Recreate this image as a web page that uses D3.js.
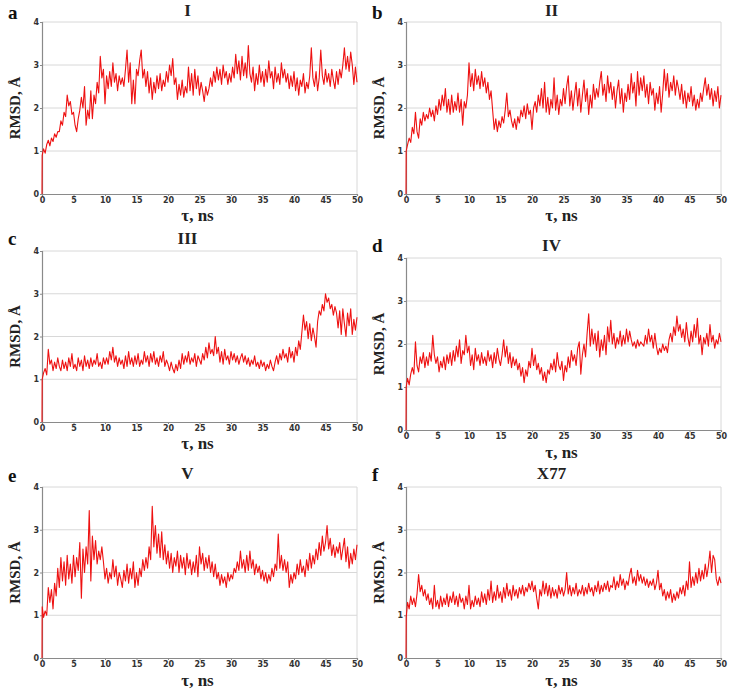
<!DOCTYPE html>
<html>
<head>
<meta charset="utf-8">
<script src="https://cdn.jsdelivr.net/npm/d3@7"></script>
<style>
html,body{margin:0;padding:0;background:#fff;}
svg{display:block;}
</style>
</head>
<body>
<svg id="chart" width="729" height="692"></svg>
<script>
// ---- data (RMSD, Å; one value every 0.25 ns, first value at t≈0) ----
const panelLetters = ["a","b","c","d","e","f"];
const panelTitles = ["I","II","III","IV","V","X77"];
const xTicks = [0,5,10,15,20,25,30,35,40,45,50];
const yTicks = [0,1,2,3,4];
const tauStep = 0.25;

const rmsdI = [0.9,
1.05,0.95,1.15,1.25,1.12,1.3,1.22,1.4,1.32,1.45,
1.45,1.7,1.6,1.9,1.8,2.3,2.05,2.15,1.85,1.9,
1.6,1.45,1.75,1.95,2.25,2.0,2.5,1.6,1.95,1.75,
2.4,1.75,2.3,2.1,2.6,2.35,3.2,2.7,2.9,2.1,
2.75,2.45,2.85,2.5,3.05,2.6,2.8,2.4,2.75,2.55,
2.7,2.5,2.9,3.35,2.6,3.05,2.1,2.65,2.1,2.9,
2.75,3.1,3.35,2.7,2.9,2.5,2.85,2.35,2.7,2.2,
2.6,2.35,2.75,2.45,2.8,2.4,2.65,2.5,2.85,2.6,
3.0,2.75,3.15,2.55,2.7,2.2,2.55,2.3,2.65,2.25,
2.5,2.35,2.95,2.4,2.8,2.3,2.9,2.45,2.75,2.3,
2.6,2.4,2.15,2.5,2.3,2.45,2.7,2.5,2.85,2.6,
2.95,2.65,2.9,2.55,3.0,2.7,2.85,2.55,2.8,2.6,
2.95,2.7,3.25,2.8,3.1,2.65,3.2,2.75,3.05,2.7,
3.45,2.8,2.6,2.95,2.4,2.8,2.55,3.0,2.6,2.85,
2.5,2.9,2.6,3.1,2.7,2.85,2.45,2.95,2.6,2.8,
2.55,3.05,2.7,2.9,2.6,2.8,2.45,2.75,2.5,2.85,
2.4,2.7,2.3,2.65,2.5,2.8,2.35,2.6,2.45,2.75,
3.4,2.7,2.5,2.85,2.4,2.7,3.35,2.75,2.55,2.9,
2.6,2.8,2.5,2.9,2.65,2.45,2.85,2.55,2.9,2.7,
3.0,3.4,2.9,3.2,2.85,3.3,3.0,2.55,2.95,2.6];

const rmsdII = [1.0,
1.15,1.3,1.2,1.55,1.4,1.9,1.45,1.3,1.75,1.6,
1.9,1.7,1.85,1.75,2.0,1.8,1.95,1.7,2.05,1.85,
2.2,1.95,2.3,2.05,2.45,1.9,2.2,1.85,2.3,1.9,
2.15,1.95,2.35,1.9,2.2,1.6,2.15,2.0,2.3,3.05,
2.5,2.8,2.4,2.9,2.55,2.75,2.45,2.85,2.5,2.7,
2.35,2.6,2.2,2.4,1.95,1.5,1.75,1.45,1.7,1.55,
1.8,1.65,1.95,2.35,1.8,1.95,1.7,1.55,1.75,1.5,
1.8,1.65,1.95,1.8,2.05,1.75,2.1,1.85,1.95,1.5,
2.0,2.15,1.9,2.3,2.05,2.45,2.0,2.6,1.9,2.25,
1.85,2.2,2.0,2.7,1.95,2.3,1.85,2.2,2.05,2.45,
2.1,2.5,2.75,2.05,2.4,1.95,2.3,2.6,2.05,2.45,
1.9,2.3,2.65,2.15,2.45,1.85,2.3,2.0,2.55,2.2,
2.45,2.25,2.6,2.85,2.3,2.55,2.15,2.75,2.35,2.6,
2.2,2.5,2.0,2.4,2.65,2.1,2.45,1.9,2.35,2.15,
2.55,2.2,2.8,2.35,2.6,2.05,2.85,2.3,2.7,2.4,
2.75,2.25,2.55,2.1,2.6,2.3,2.45,1.95,2.35,2.1,
2.5,1.9,2.35,2.9,2.4,2.8,2.25,2.6,2.4,2.75,
2.3,2.65,2.45,2.2,2.55,2.1,2.4,2.0,2.35,2.15,
2.5,2.05,2.3,1.95,2.2,2.0,2.35,2.15,2.45,2.7,
2.3,2.55,2.2,2.45,2.05,2.4,2.15,2.5,2.0,2.3];

const rmsdIII = [1.0,
1.15,1.25,1.1,1.7,1.35,1.45,1.2,1.4,1.25,1.5,
1.3,1.2,1.45,1.25,1.4,1.2,1.5,1.3,1.6,1.25,
1.35,1.2,1.5,1.3,1.45,1.2,1.55,1.3,1.45,1.25,
1.5,1.3,1.45,1.35,1.6,1.3,1.4,1.25,1.5,1.35,
1.5,1.35,1.65,1.45,1.75,1.4,1.55,1.3,1.5,1.35,
1.45,1.25,1.55,1.3,1.65,1.35,1.5,1.3,1.55,1.35,
1.6,1.3,1.45,1.35,1.65,1.4,1.55,1.3,1.6,1.4,
1.65,1.35,1.5,1.3,1.55,1.4,1.65,1.3,1.45,1.35,
1.2,1.4,1.25,1.15,1.35,1.2,1.45,1.25,1.6,1.35,
1.55,1.4,1.65,1.35,1.5,1.4,1.6,1.3,1.55,1.45,
1.35,1.6,1.45,1.75,1.5,1.85,1.6,1.7,1.55,2.0,
1.6,1.75,1.4,1.65,1.35,1.7,1.45,1.55,1.35,1.65,
1.45,1.6,1.4,1.55,1.35,1.5,1.6,1.4,1.55,1.35,
1.5,1.3,1.45,1.35,1.55,1.3,1.4,1.25,1.45,1.3,
1.4,1.2,1.35,1.25,1.45,1.3,1.2,1.4,1.55,1.35,
1.6,1.45,1.7,1.5,1.6,1.4,1.75,1.5,1.65,1.4,
1.75,1.55,1.9,1.7,2.1,2.5,2.15,2.35,1.95,2.3,
1.9,2.2,2.0,1.75,2.35,2.6,2.5,2.75,2.6,3.0,
2.8,2.9,2.65,2.75,2.5,2.7,2.55,2.2,2.6,2.05,
2.65,2.3,2.0,2.55,2.25,2.65,2.05,2.4,2.15,2.45];

const rmsdIV = [1.0,
1.2,1.05,1.3,1.45,1.3,2.05,1.5,1.35,1.7,1.55,
1.8,1.45,1.7,1.5,1.8,1.6,2.2,1.75,1.55,1.7,
1.35,1.6,1.45,1.7,1.4,1.75,1.55,1.8,1.5,1.85,
1.6,1.95,1.7,2.1,1.55,1.85,1.75,2.2,1.8,1.95,
1.5,1.75,1.4,1.9,1.6,1.75,1.5,1.8,1.55,1.7,
1.5,1.85,1.6,1.75,1.45,1.8,1.55,1.9,1.65,1.5,
1.75,2.1,1.7,1.95,1.55,1.8,1.45,1.7,1.5,1.65,
1.4,1.55,1.25,1.45,1.1,1.4,1.25,1.6,1.45,1.9,
1.5,1.75,1.4,1.55,1.3,1.45,1.15,1.35,1.1,1.4,
1.3,1.55,1.4,1.65,1.35,1.8,1.5,1.4,1.6,1.15,
1.5,1.35,1.7,1.45,1.85,1.6,1.75,1.5,1.9,2.05,
1.3,1.75,2.0,1.7,2.25,2.7,1.95,2.35,2.0,2.25,
1.85,2.3,1.7,2.1,1.85,2.2,1.75,2.4,2.05,2.55,
2.0,2.25,1.9,2.15,2.0,2.3,1.95,2.2,2.0,2.35,
2.05,2.3,2.1,1.95,2.05,1.9,2.1,1.95,2.05,2.0,
1.95,2.2,2.0,2.35,2.05,2.2,1.9,2.25,1.95,1.75,
1.9,1.8,2.0,1.85,1.95,1.8,2.1,2.25,2.05,2.4,
2.2,2.65,2.3,2.45,2.15,2.35,2.05,2.5,2.15,1.95,
2.3,2.05,2.45,2.15,2.6,2.0,2.2,1.75,2.15,2.0,
2.25,1.95,2.45,2.05,2.2,1.9,2.1,2.0,2.25,2.05];

const rmsdV = [1.2,
0.95,1.1,1.0,1.65,1.3,1.6,1.15,1.75,1.45,2.1,
1.65,2.35,1.8,2.25,1.7,2.4,1.85,2.2,1.75,2.4,
1.9,2.35,2.05,2.7,1.4,2.55,2.0,2.6,2.2,3.45,
1.8,2.85,2.3,2.75,2.2,2.5,2.3,2.6,2.25,1.85,
2.1,1.75,2.0,1.85,2.3,1.9,2.15,1.7,2.0,1.85,
1.65,2.05,1.8,2.2,1.75,2.1,1.85,2.25,1.65,2.0,
1.7,2.1,1.9,2.3,2.05,2.35,2.1,2.6,2.3,3.55,
2.6,3.1,2.45,2.9,2.35,2.95,2.3,2.65,2.2,2.5,
2.1,2.45,2.0,2.35,2.15,2.5,2.0,2.4,2.1,2.35,
1.95,2.45,2.1,2.3,1.95,2.25,2.0,2.4,1.9,2.6,
2.2,2.45,2.05,2.35,2.1,2.4,2.0,2.25,1.9,2.2,
1.85,2.0,1.7,1.95,1.75,1.9,1.65,2.0,1.8,1.95,
1.85,2.1,2.0,2.25,2.05,2.5,2.1,2.3,2.0,2.4,
2.05,2.5,2.1,2.3,1.95,2.2,2.0,2.15,1.85,2.05,
1.8,2.0,1.75,1.95,1.8,2.1,1.9,2.2,2.05,2.9,
2.1,2.4,2.05,2.3,2.0,2.25,1.65,1.95,1.75,2.0,
1.85,2.2,1.95,2.3,2.0,2.15,1.9,2.3,2.05,2.45,
2.1,2.4,2.2,2.55,2.3,2.7,2.4,2.85,2.5,2.7,
3.1,2.55,2.8,2.4,2.65,2.35,2.6,2.45,2.7,2.3,
2.55,2.8,2.25,2.6,2.1,2.45,2.2,2.55,2.3,2.65];

const rmsdX77 = [0.95,
1.3,1.15,1.45,1.25,1.4,1.2,1.5,1.95,1.55,1.7,
1.45,1.6,1.35,1.5,1.25,1.4,1.15,1.7,1.2,1.35,
1.15,1.45,1.2,1.4,1.25,1.5,1.2,1.45,1.3,1.55,
1.25,1.45,1.2,1.5,1.3,1.4,1.15,1.45,1.25,1.7,
1.15,1.35,1.2,1.45,1.25,1.4,1.2,1.55,1.3,1.5,
1.25,1.6,1.35,1.8,1.3,1.55,1.35,1.7,1.4,1.55,
1.3,1.65,1.4,1.75,1.45,1.6,1.35,1.7,1.45,1.6,
1.4,1.65,1.5,1.7,1.45,1.65,1.55,1.75,1.6,1.8,
1.55,1.7,1.4,1.15,1.6,1.45,1.8,1.5,1.75,1.45,
1.7,1.4,1.65,1.45,1.6,1.4,1.7,1.5,1.65,1.45,
1.6,2.0,1.5,1.7,1.45,1.65,1.5,1.75,1.45,1.6,
1.5,1.7,1.45,1.65,1.5,1.75,1.55,1.65,1.45,1.7,
1.55,1.8,1.5,1.7,1.55,1.75,1.6,1.8,1.55,1.7,
1.65,1.9,1.6,1.8,1.65,1.95,1.7,1.85,1.6,1.8,
1.7,1.95,2.1,1.75,1.9,1.7,2.05,1.8,1.95,1.75,
1.9,1.7,1.85,1.65,1.8,1.7,1.85,1.6,1.75,2.05,
1.6,1.75,1.45,1.6,1.35,1.55,1.4,1.6,1.3,1.5,
1.35,1.55,1.4,1.65,1.5,1.7,1.45,1.8,1.6,2.25,
1.65,1.9,1.7,2.0,1.75,2.1,1.8,2.05,1.85,2.2,
1.9,2.15,2.5,2.0,2.4,2.3,1.85,1.7,1.9,1.75];

const allSeries = [rmsdI, rmsdII, rmsdIII, rmsdIV, rmsdV, rmsdX77];

// ---- layout ----
const plotBoxes = [
  {x0:42,  x1:357, y0:22,  y1:194, titleY:16,  letterY:19,  xlabY:221},
  {x0:406, x1:721, y0:22,  y1:194, titleY:16,  letterY:19,  xlabY:221},
  {x0:42,  x1:357, y0:251, y1:422, titleY:244, letterY:245, xlabY:449},
  {x0:406, x1:721, y0:258, y1:430, titleY:251, letterY:252, xlabY:458},
  {x0:42,  x1:357, y0:487, y1:658, titleY:479, letterY:482, xlabY:686},
  {x0:406, x1:721, y0:487, y1:658, titleY:479, letterY:481, xlabY:686}
];

const svg = d3.select("#chart");
const serif = "'Liberation Serif','Times New Roman',serif";
const sans = "'DejaVu Sans',sans-serif";

plotBoxes.forEach((b, k) => {
  const vals = allSeries[k];
  const pts = [[0, 0]].concat(vals.map((v, i) => [i === 0 ? 0.03 : i * tauStep, v]));
  const x = d3.scaleLinear().domain([0, 50]).range([b.x0, b.x1]);
  const y = d3.scaleLinear().domain([0, 4]).range([b.y1, b.y0]);
  const g = svg.append("g");

  // grid
  g.selectAll("line.grid").data(yTicks.filter(t => t > 0)).enter().append("line")
    .attr("x1", b.x0).attr("x2", b.x1)
    .attr("y1", d => y(d)).attr("y2", d => y(d))
    .attr("stroke", "#d8d8d8").attr("stroke-width", 1);
  g.append("line").attr("x1", b.x1).attr("x2", b.x1).attr("y1", b.y0).attr("y2", b.y1)
    .attr("stroke", "#d8d8d8").attr("stroke-width", 1);

  // axes
  const xa = g.append("g").attr("transform", `translate(0,${b.y1})`)
    .call(d3.axisBottom(x).tickValues(xTicks).tickFormat(d3.format("d")).tickSize(2).tickPadding(1));
  const ya = g.append("g").attr("transform", `translate(${b.x0},0)`)
    .call(d3.axisLeft(y).tickValues(yTicks).tickFormat(d3.format("d")).tickSize(2).tickPadding(1));
  [xa, ya].forEach(a => {
    a.select(".domain").attr("stroke", "#8a8a8a").attr("stroke-width", 1.2);
    a.selectAll(".tick line").attr("stroke", "#8a8a8a");
    a.selectAll("text").attr("font-family", sans).attr("font-weight", "bold")
      .attr("font-size", 8).attr("fill", "#333");
  });

  // line
  g.append("path").datum(pts)
    .attr("fill", "none").attr("stroke", "#ee1111").attr("stroke-width", 1.1)
    .attr("stroke-linejoin", "round")
    .attr("d", d3.line().x(d => x(d[0])).y(d => y(d[1])));

  // texts
  g.append("text").attr("x", (b.x0 + b.x1) / 2 - 12).attr("y", b.titleY)
    .attr("text-anchor", "middle").attr("font-family", serif).attr("font-weight", "bold")
    .attr("font-size", 17).attr("fill", "#222").text(panelTitles[k]);
  g.append("text").attr("x", b.x0 - 34).attr("y", b.letterY)
    .attr("font-family", serif).attr("font-weight", "bold")
    .attr("font-size", 19).attr("fill", "#111").text(panelLetters[k]);
  g.append("text").attr("transform", `translate(${b.x0 - 22},${(b.y0 + b.y1) / 2}) rotate(-90)`)
    .attr("text-anchor", "middle").attr("font-family", serif).attr("font-weight", "bold")
    .attr("font-size", 15).attr("fill", "#222").text("RMSD, Å");
  g.append("text").attr("x", (b.x0 + b.x1) / 2 - 2).attr("y", b.xlabY)
    .attr("text-anchor", "middle").attr("font-family", serif).attr("font-weight", "bold")
    .attr("font-size", 17).attr("fill", "#222").text("τ, ns");
});
</script>
</body>
</html>
